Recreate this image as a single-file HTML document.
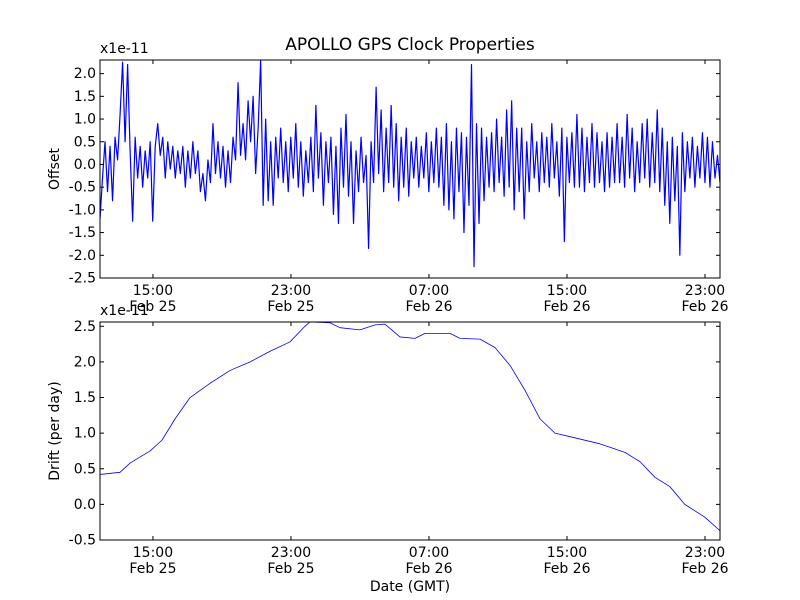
<!DOCTYPE html>
<html><head><meta charset="utf-8"><style>
html,body{margin:0;padding:0;background:#fff}
svg{display:block;font-family:"DejaVu Sans","Liberation Sans",sans-serif}
</style></head><body>
<svg id="chart" width="800" height="600" viewBox="0 0 800 600"></svg>
<script>
// ---- data ----
const xTickHours = [15, 23, 31, 39, 47];
const xTickTimes = ["15:00","23:00","07:00","15:00","23:00"];
const xTickDates = ["Feb 25","Feb 25","Feb 26","Feb 26","Feb 26"];
const offsetTicks = [-2.5,-2.0,-1.5,-1.0,-0.5,0.0,0.5,1.0,1.5,2.0];
const driftTicks = [-0.5,0.0,0.5,1.0,1.5,2.0,2.5];
const offsetValues = [
-1.2,-0.3,0.5,-0.6,0.4,-0.8,0.6,0.1,
1.1,2.25,0.5,2.2,0.3,-1.25,0.6,-0.3,
0.4,-0.5,0.3,-0.3,0.5,-1.25,0.4,0.9,
0.2,0.6,-0.3,0.5,-0.1,0.4,-0.3,0.3,
-0.2,0.4,-0.5,0.3,-0.3,0.5,-0.2,0.3,
-0.6,-0.2,-0.8,0.1,-0.4,0.9,-0.2,0.5,
-0.3,0.4,-0.5,0.3,-0.4,0.6,0.1,1.8,
0.2,0.9,0.1,1.4,0.5,1.5,-0.2,0.8,
2.3,-0.9,1.0,-0.8,0.5,-0.9,0.6,-0.3,
0.8,-0.4,0.5,-0.6,0.6,-0.3,0.9,-0.5,
0.5,-0.7,0.3,-0.4,0.6,-0.6,1.3,-0.3,
0.7,-0.9,0.5,-0.4,0.6,-1.1,0.4,-1.3,
0.8,-0.5,1.1,-0.7,0.5,-1.3,0.3,-0.6,
0.6,-0.4,0.2,-1.85,0.5,-0.4,1.7,-0.2,
1.2,-0.6,0.8,-0.4,1.3,-0.5,0.9,-0.8,
0.6,-0.5,0.8,-0.7,0.5,-0.3,0.6,-0.5,
0.4,-0.3,0.7,-0.6,0.5,-0.4,0.8,-0.5,
0.6,-0.9,0.9,-1.0,0.5,-1.2,0.8,-0.6,
0.7,-1.5,0.6,-0.9,2.2,-2.25,0.9,-1.3,
0.8,-0.8,0.6,-0.5,0.7,-0.6,1.0,-0.4,
0.6,-0.7,1.2,-0.5,1.4,-1.0,0.8,-0.6,
0.8,-1.2,0.5,-0.6,0.9,-0.3,0.5,-0.6,
0.7,-0.4,0.6,-0.5,0.9,-0.3,0.5,-0.7,
0.8,-1.7,0.6,-0.4,0.7,-0.5,1.1,-0.5,
0.8,-0.6,0.6,-0.4,0.9,-0.5,0.7,-0.4,
0.5,-0.6,0.7,-0.5,0.6,-0.4,0.9,-0.4,
0.6,-0.5,1.1,-0.3,0.8,-0.6,0.5,-0.4,
0.9,-0.3,1.0,-0.5,0.7,-0.4,1.2,-0.6,
0.8,-0.9,0.5,-1.3,0.6,-0.8,0.4,-2.0,
0.7,-0.6,0.5,-0.3,0.6,-0.5,0.4,-0.3,
0.7,-0.4,0.6,-0.5,0.5,-0.3,0.2,-0.4];
const driftHours = [11.93,13.09,13.67,14.83,15.52,16.28,17.15,18.31,19.47,20.63,21.79,22.94,23.81,24.10,25.26,25.84,27.0,27.87,28.45,29.32,30.19,30.77,32.22,32.80,33.96,34.83,35.70,36.57,37.44,38.30,39.18,40.91,42.36,43.23,44.10,44.96,45.83,46.99,47.87];
const driftValues = [0.42,0.45,0.58,0.75,0.9,1.2,1.5,1.7,1.88,2.0,2.15,2.28,2.5,2.56,2.55,2.48,2.45,2.52,2.53,2.35,2.33,2.4,2.4,2.33,2.32,2.2,1.95,1.6,1.2,1.0,0.95,0.85,0.73,0.6,0.38,0.25,0.0,-0.18,-0.37];
const tMin = 11.93, tMax = 47.87;

const NS = "http://www.w3.org/2000/svg";
const svg = document.getElementById("chart");
function el(tag, attrs, parent, text){
  const e = document.createElementNS(NS, tag);
  for (const k in attrs) e.setAttribute(k, attrs[k]);
  if (text !== undefined) e.textContent = text;
  (parent||svg).appendChild(e); return e;
}
const L = 100, R = 720;
const xs = h => L + (h - tMin) / (tMax - tMin) * (R - L);

function panel(name, top, bottom, yMin, yMax, yTicks, yLabel, xs2, ys2, showXLabel, lw){
  const g = el("g", {}, svg);
  
  
  const ys = v => bottom - (v - yMin) / (yMax - yMin) * (bottom - top);
  let d = "";
  for (let i = 0; i < ys2.length; i++) {
    const x = xs2 ? xs(xs2[i]) : xs(tMin + i * (tMax - tMin) / (ys2.length - 1));
    d += (i ? "L" : "M") + x.toFixed(2) + "," + ys(ys2[i]).toFixed(2);
  }
  const clip = el("clipPath", {id: "clip-" + name}, g);
  el("rect", {x: L, y: top, width: R - L, height: bottom - top}, clip);
  const line = el("path", {d: d, fill: "none", stroke: "#0000ff", "stroke-width": lw, "stroke-linejoin": "round", "clip-path": "url(#clip-" + name + ")"}, g);
  
  
  const fr = el("rect", {x: L, y: top, width: R - L, height: bottom - top, fill: "none", stroke: "#000", "stroke-width": 1}, g);
  
  
  yTicks.forEach(v => {
    const y = ys(v);
    el("line", {x1: L, x2: L + 4, y1: y, y2: y, stroke: "#000"}, g);
    el("line", {x1: R, x2: R - 4, y1: y, y2: y, stroke: "#000"}, g);
    const t = el("text", {x: L - 4, y: y + 4.5, "text-anchor": "end", "font-size": 14}, g, v.toFixed(1));
    
    
  });
  xTickHours.forEach((h, i) => {
    const x = xs(h);
    el("line", {x1: x, x2: x, y1: bottom, y2: bottom - 4, stroke: "#000"}, g);
    el("line", {x1: x, x2: x, y1: top, y2: top + 4, stroke: "#000"}, g);
    const t1 = el("text", {x: x, y: bottom + 17, "text-anchor": "middle", "font-size": 14}, g, xTickTimes[i]);
    
    
    const t2 = el("text", {x: x, y: bottom + 33, "text-anchor": "middle", "font-size": 14}, g, xTickDates[i]);
    
    
  });
  const off = el("text", {x: L, y: top - 7, "font-size": 14}, g, "x1e-11");
  
  
  const cy = (top + bottom) / 2;
  const yl = el("text", {x: 59, y: cy, "text-anchor": "middle", "font-size": 14, transform: "rotate(-90 59 " + cy + ")"}, g, yLabel);
  
  
  if (showXLabel) {
    const xl = el("text", {x: (L + R) / 2, y: 591, "text-anchor": "middle", "font-size": 14}, g, "Date (GMT)");
    
    
  }
}
const title = el("text", {x: 410, y: 50, "text-anchor": "middle", "font-size": 17}, svg, "APOLLO GPS Clock Properties");


panel("offset", 60, 278, -2.5, 2.3, offsetTicks, "Offset", null, offsetValues, false, 1.2);
panel("drift", 322, 540, -0.5, 2.56, driftTicks, "Drift (per day)", driftHours, driftValues, true, 0.8);
</script>
</body></html>
